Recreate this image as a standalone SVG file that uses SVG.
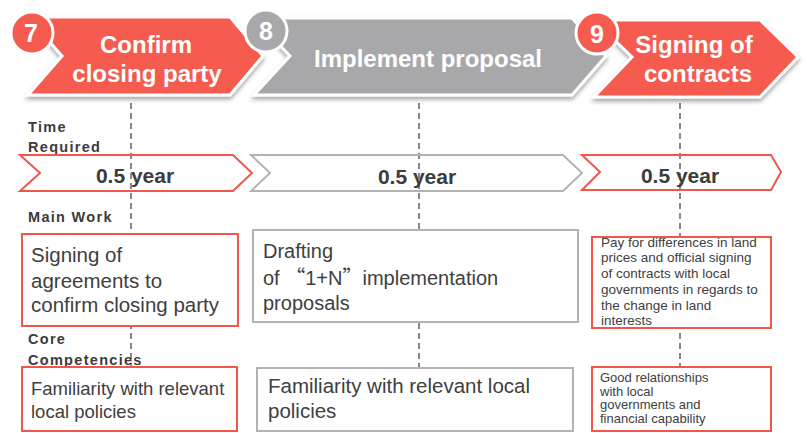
<svg xmlns="http://www.w3.org/2000/svg" width="808" height="433" viewBox="0 0 808 433">
<defs>
<filter id="sh" x="-10%" y="-20%" width="120%" height="150%">
<feDropShadow dx="0" dy="3" stdDeviation="2.2" flood-color="#000" flood-opacity="0.35"/>
</filter>
<style>
.ban{stroke:#fff;stroke-width:3;stroke-linejoin:miter}
.red{fill:#f55b4f}
.gray{fill:#a8a8ab}
.circ{stroke:#fff;stroke-width:3}
.num{font-family:"Liberation Sans",Arial,sans-serif;font-weight:bold;font-size:25px;fill:#fff;text-anchor:middle}
.title{font-family:"Liberation Sans",Arial,sans-serif;font-weight:bold;font-size:24px;fill:#fff;text-anchor:middle}
.lab{font-family:"Liberation Sans",Arial,sans-serif;font-weight:bold;font-size:14.5px;letter-spacing:1.3px;fill:#3c3c3c}
.yr{font-family:"Liberation Sans",Arial,sans-serif;font-weight:bold;font-size:21px;fill:#3c3c3c;text-anchor:middle}
.chr{fill:none;stroke:#f0564a;stroke-width:2}
.chg{fill:none;stroke:#b3b3b3;stroke-width:2}
.bxr{fill:#fff;stroke:#f0564a;stroke-width:2}
.bxg{fill:#fff;stroke:#b3b3b3;stroke-width:2}
.t{font-family:"Liberation Sans",Arial,sans-serif;fill:#404040}
.dash{stroke:#606060;stroke-width:1.5;stroke-dasharray:6 4;fill:none}
</style>
</defs>
<rect width="808" height="433" fill="#fff"/>

<g id="connectors">
<line class="dash" x1="131" y1="103" x2="131" y2="367"/>
<line class="dash" x1="419" y1="103" x2="419" y2="368"/>
<line class="dash" x1="680" y1="103" x2="680" y2="367"/>
</g>

<g id="header7">
<polygon class="ban red" filter="url(#sh)" points="28,17 230,17 263,56 230,95 28,95 62,56"/>
<circle class="circ red" cx="32" cy="33" r="21"/>
<text class="num" x="31" y="42">7</text>
<text class="title" x="146" y="53">Confirm</text>
<text class="title" x="147" y="82">closing party</text>
</g>
<g id="header8">
<polygon class="ban gray" filter="url(#sh)" points="254,18 572,18 606,56 572,95 254,95 290,56"/>
<circle class="circ gray" cx="266" cy="31" r="21"/>
<text class="num" x="266" y="40">8</text>
<text class="title" x="428" y="67">Implement proposal</text>
</g>
<g id="header9">
<polygon class="ban red" filter="url(#sh)" points="594,20 760,20 798,57 760,97 594,97 632,57"/>
<circle class="circ red" cx="597" cy="33" r="21"/>
<text class="num" x="597" y="43">9</text>
<text class="title" x="694" y="53">Signing of</text>
<text class="title" x="698" y="82">contracts</text>
</g>

<g id="labels">
<text class="lab" x="28" y="132">Time</text>
<text class="lab" x="28" y="152">Required</text>
<text class="lab" x="28" y="222">Main Work</text>
<text class="lab" x="28" y="344">Core</text>
<text class="lab" x="28" y="365">Competencies</text>
</g>

<g id="time7">
<polygon class="chr" points="20,155 233,155 252,173 233,191 20,191 40,173"/>
<text class="yr" x="135" y="183">0.5 year</text>
</g>
<g id="time8">
<polygon class="chg" points="251,155 563,155 582,173 563,191 251,191 270,173"/>
<text class="yr" x="417" y="184">0.5 year</text>
</g>
<g id="time9">
<polygon class="chr" points="582,155 771,155 781,172 771,190 582,190 600,172"/>
<text class="yr" x="680" y="183">0.5 year</text>
</g>

<g id="work7">
<rect class="bxr" x="22" y="234" width="216" height="92"/>
<text class="t" font-size="20.5" x="31" y="262">Signing of</text>
<text class="t" font-size="20.5" x="31" y="288">agreements to</text>
<text class="t" font-size="20.5" x="31" y="312">confirm closing party</text>
</g>
<g id="work8">
<rect class="bxg" x="253" y="230" width="325" height="92"/>
<text class="t" font-size="20" x="263" y="258">Drafting</text>
<text class="t" font-size="20" x="263" y="285">of <tspan font-family="'Noto Sans CJK SC',sans-serif">“</tspan>1+N<tspan font-family="'Noto Sans CJK SC',sans-serif">”</tspan>implementation</text>
<text class="t" font-size="20" x="263" y="310">proposals</text>
</g>
<g id="work9">
<rect class="bxr" x="592" y="237" width="179" height="91"/>
<text class="t" font-size="13.5" x="601" y="247">Pay for differences in land</text>
<text class="t" font-size="13.5" x="601" y="262">prices and official signing</text>
<text class="t" font-size="13.5" x="601" y="278">of contracts with local</text>
<text class="t" font-size="13.5" x="601" y="294">governments in regards to</text>
<text class="t" font-size="13.5" x="601" y="310">the change in land</text>
<text class="t" font-size="13.5" x="601" y="325">interests</text>
</g>

<g id="core7">
<rect class="bxr" x="22" y="367" width="215" height="64"/>
<text class="t" font-size="18.5" x="31" y="395">Familiarity with relevant</text>
<text class="t" font-size="18.5" x="31" y="418">local policies</text>
</g>
<g id="core8">
<rect class="bxg" x="257" y="368" width="316" height="63"/>
<text class="t" font-size="20.5" x="268" y="393">Familiarity with relevant local</text>
<text class="t" font-size="20.5" x="268" y="418">policies</text>
</g>
<g id="core9">
<rect class="bxr" x="592" y="367" width="179" height="64"/>
<text class="t" font-size="13" x="600" y="382">Good relationships</text>
<text class="t" font-size="13" x="600" y="395.5">with local</text>
<text class="t" font-size="13" x="600" y="409">governments and</text>
<text class="t" font-size="13" x="600" y="422.5">financial capability</text>
</g>
</svg>
